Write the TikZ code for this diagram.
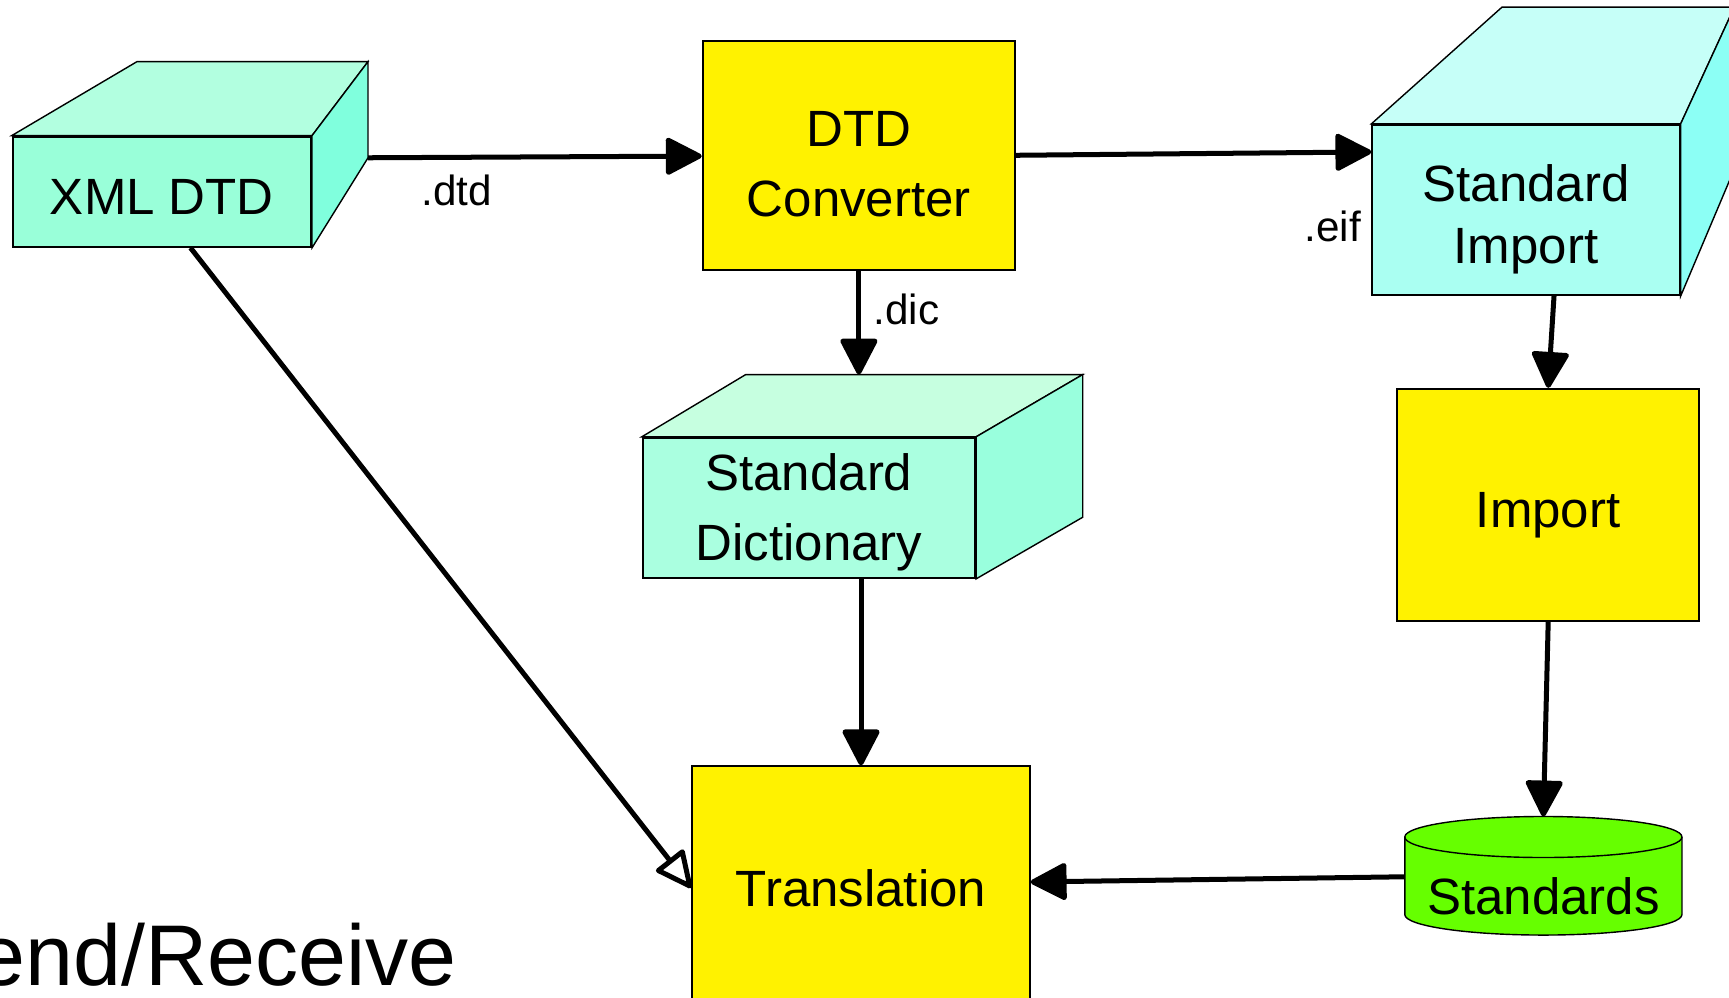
\documentclass[tikz,border=0pt]{standalone}
\usepackage{fontspec}
\setmainfont{Liberation Sans}
\usetikzlibrary{arrows.meta,backgrounds}

\definecolor{xmlfront}{HTML}{99FFD9}
\definecolor{xmltop}{HTML}{B2FFE0}
\definecolor{xmlside}{HTML}{80FFDD}
\definecolor{dictfront}{HTML}{AAFFE0}
\definecolor{dicttop}{HTML}{C6FFE0}
\definecolor{dictside}{HTML}{99FFDD}
\definecolor{impfront}{HTML}{AAFFF2}
\definecolor{imptop}{HTML}{C6FFF8}
\definecolor{impside}{HTML}{8CFFF5}
\definecolor{stdgreen}{HTML}{66FF00}

\tikzset{textdrop/.style={execute at begin node={\rule{0pt}{#1}}}}
\newcommand{\boxtext}[2]{\raisebox{-#1}[\height][\depth]{\begin{tabular}{@{}c@{}}#2\end{tabular}}}

\begin{document}
\begin{tikzpicture}[x=0.01cm,y=-0.01cm]
  \useasboundingbox (0,0) rectangle (1729,998);
  \clip (0,0) rectangle (1729,998);

      % Nodes
      \begin{scope}[every node/.style={draw,line width=0.6pt,align=center,
          font=\fontsize{14.5pt}{19.9pt}\selectfont}]
        \node[fill=xmlfront,minimum width=2.98cm,minimum height=1.10cm,textdrop=12.9pt] (xml) at (161.9,191.7) {XML DTD};
        \node[fill=yellow,minimum width=3.12cm,minimum height=2.29cm] (conv) at (858.9,155.3) {\boxtext{3.5pt}{DTD\\Converter}};
        \node[fill=dictfront,minimum width=3.32cm,minimum height=1.38cm,inner ysep=0pt] (dict) at (808.9,507.9) {\boxtext{1.1pt}{Standard\\Dictionary}};
        \node[fill=impfront,minimum width=3.07cm,minimum height=1.70cm,
          font=\fontsize{14.5pt}{17.6pt}\selectfont] (simp) at (1526,210) {\boxtext{3pt}{Standard\\Import}};
        \node[fill=yellow,minimum width=3.02cm,minimum height=2.32cm,textdrop=15.6pt] (imp) at (1548.2,505) {Import};
        \node[fill=yellow,minimum width=3.37cm,minimum height=2.43cm] (trans) at (861,888) {Translation};
        \node[draw=none,outer sep=0pt,minimum width=2.77cm,minimum height=0.775cm] (std) at (1543.4,896.3) {Standards};
      \end{scope}

      % Faces
      \begin{scope}[on background layer,line width=0.6pt]
        \path (xml.north west) ++(125.3,-74) coordinate (xmlBL);
        \path (xml.north east) ++(56,-74) coordinate (xmlBR);
        \path (xml.south east) ++(56,-90) coordinate (xmlBRb);
        \draw[fill=xmltop] (xml.north west) -- (xmlBL) -- (xmlBR) -- (xml.north east) -- cycle;
        \draw[fill=xmlside] (xml.north east) -- (xmlBR) -- (xmlBRb) -- (xml.south east) -- cycle;

        \path (dict.north west) ++(104,-62.3) coordinate (dictBL);
        \path (dict.north east) ++(106.7,-62.3) coordinate (dictBR);
        \path (dict.south east) ++(106.7,-61.7) coordinate (dictBRb);
        \draw[fill=dicttop] (dict.north west) -- (dictBL) -- (dictBR) -- (dict.north east) -- cycle;
        \draw[fill=dictside] (dict.north east) -- (dictBR) -- (dictBRb) -- (dict.south east) -- cycle;

        \path (simp.north west) ++(130.6,-116.7) coordinate (simpBL);
        \path (simp.north east) ++(53.7,-116.7) coordinate (simpBR);
        \path (simp.south east) ++(53.7,-127) coordinate (simpBRb);
        \draw[fill=imptop] (simp.north west) -- (simpBL) -- (simpBR) -- (simp.north east) -- cycle;
        \draw[fill=impside] (simp.north east) -- (simpBR) -- (simpBRb) -- (simp.south east) -- cycle;

        \draw[fill=stdgreen] ([yshift=2.05mm]std.north west) -- ([yshift=2.05mm]std.south west)
          arc[start angle=180,end angle=360,x radius=1.385cm,y radius=2.05mm]
          -- ([yshift=2.05mm]std.north east)
          arc[start angle=0,end angle=180,x radius=1.385cm,y radius=2.05mm] -- cycle;
        \draw ([yshift=2.05mm]std.north west)
          arc[start angle=180,end angle=360,x radius=1.385cm,y radius=2.05mm];
      \end{scope}

      % Edges
      \begin{scope}[every edge/.style={draw,line width=0.5mm,
          -{Triangle[length=3.9mm,width=3.9mm,round]}}]
        \path (xmlBRb) edge (conv);
        \path (conv.east) edge ([yshift=5.8mm]simp.west);
        \path (conv.south) edge (conv.south |- dictBL);
        \path (trans |- dict.south) edge (trans.north);
        \path ([xshift=2.8mm]simp.south) edge (imp.north);
        \path (imp.south) edge ([yshift=4.1mm]std.north);
        \path ([yshift=1.95mm]std.west) edge ([yshift=0.6mm]trans.east);
        \path (xml.-63) edge[-{Triangle[open,fill=white,length=4mm,width=3.7mm,round]}] (trans.west);
      \end{scope}

      % Labels
      \begin{scope}[every node/.style={inner sep=0pt,font=\fontsize{12pt}{14pt}\selectfont}]
        \node[anchor=base] (dtdlbl) at (456.5,206) {.dtd};
        \node[anchor=base east] (eiflbl) at (1361.7,241.7) {.eif};
        \node[anchor=base west] (diclbl) at (873,325) {.dic};
        \node[anchor=base east,font=\fontsize{24.5pt}{29pt}\selectfont] (sendlbl) at (457.6,986) {Send/Receive};
      \end{scope}

    \end{tikzpicture}
\end{document}
